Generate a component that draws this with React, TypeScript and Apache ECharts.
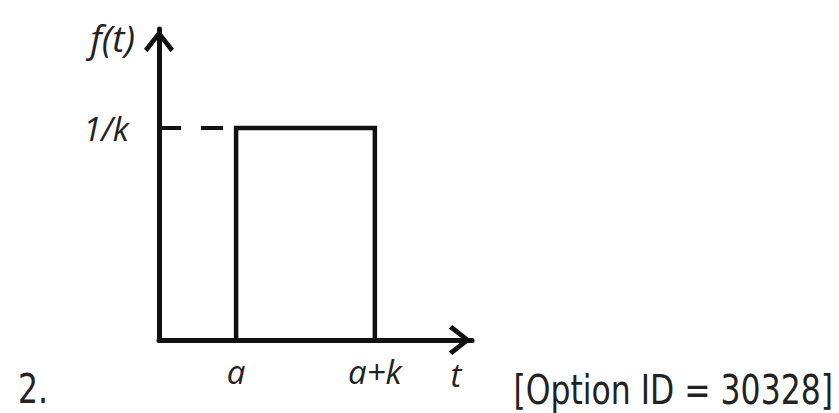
import React, { useEffect, useRef } from "react";
import * as echarts from "echarts";

// Pulse parameters: start time a and width k (height 1/k keeps unit area)
const a = 1;
const k = 1.8;
const level = 1 / k;

// Rectangular pulse outline and the dashed guide to the f(t) axis
const pulseOutline: [number, number][] = [
  [a, 0],
  [a, level],
  [a + k, level],
  [a + k, 0],
];
const guideLine: [number, number][] = [
  [0, level],
  [a, level],
];

// Tick positions and their symbolic labels
const xTickValues = [a, a + k];
const xTickLabels = ["a", "a+k"];
const yTickValues = [level];
const yTickLabels = ["1/k"];

const axisNames = { x: "t", y: "f(t)" };
const itemNumber = "2.";
const optionTag = "[Option ID = 30328]";

const INK = "#111";
const TEXT = "#222";
const LABEL_FONT = "'Open Sans', 'Noto Sans', sans-serif";
const BODY_FONT = "'DejaVu Sans Condensed', 'DejaVu Sans', sans-serif";

// Open chevron arrowhead, pointing up in symbol space
const chevron = "path://M0,19 L15,0 L30,19 L26.5,22.5 L15,7.5 L3.5,22.5 Z";

function labelFor(values: number[], labels: string[]) {
  return (v: number) => {
    const i = values.findIndex((x) => Math.abs(x - v) < 1e-9);
    return i >= 0 ? labels[i] : "";
  };
}

const italicLabel = {
  fontFamily: LABEL_FONT,
  fontStyle: "italic",
  fontWeight: 500,
  fontSize: 33,
  color: TEXT,
};

export default function App() {
  const ref = useRef<HTMLDivElement>(null);

  useEffect(() => {
    document.body.style.margin = "0";
    if (!ref.current) return;
    const chart = echarts.init(ref.current, null, { renderer: "svg" });

    const axisLine = {
      show: true,
      symbol: ["none", chevron],
      symbolSize: [30, 24],
      symbolOffset: [0, -12],
      lineStyle: { color: INK, width: 5 },
    };

    chart.setOption({
      animation: false,
      backgroundColor: "#fff",
      grid: { left: 159, top: 29, right: 367, bottom: 73, containLabel: false },
      xAxis: {
        type: "value",
        min: 0,
        max: 4.06,
        name: axisNames.x,
        nameLocation: "end",
        nameGap: -16,
        nameTextStyle: {
          ...italicLabel,
          align: "center",
          verticalAlign: "top",
          padding: [18, 0, 0, 0],
        },
        axisLine,
        axisTick: { show: false },
        splitLine: { show: false },
        axisLabel: {
          ...italicLabel,
          customValues: xTickValues,
          formatter: labelFor(xTickValues, xTickLabels),
          verticalAlign: "middle",
          margin: 31,
        },
      },
      yAxis: {
        type: "value",
        min: 0,
        max: 0.815,
        name: axisNames.y,
        nameLocation: "end",
        nameGap: -8,
        nameTextStyle: {
          ...italicLabel,
          fontSize: 37,
          align: "right",
          verticalAlign: "middle",
          padding: [0, 24, 0, 0],
        },
        axisLine,
        axisTick: { show: false },
        splitLine: { show: false },
        axisLabel: {
          ...italicLabel,
          customValues: yTickValues,
          formatter: labelFor(yTickValues, yTickLabels),
          margin: 30,
        },
      },
      series: [
        {
          type: "line",
          data: guideLine,
          symbol: "none",
          silent: true,
          lineStyle: { color: INK, width: 4, type: [22, 20] },
        },
        {
          type: "line",
          data: pulseOutline,
          symbol: "none",
          silent: true,
          lineStyle: { color: INK, width: 4.5, join: "miter", cap: "square" },
        },
      ],
      graphic: [
        {
          type: "text",
          x: 18,
          y: 389,
          scaleY: 1.15,
          style: {
            text: itemNumber,
            font: `35px ${BODY_FONT}`,
            fill: TEXT,
            verticalAlign: "middle",
          },
        },
        {
          type: "text",
          x: 833,
          y: 390,
          scaleY: 1.15,
          style: {
            text: optionTag,
            font: `35px ${BODY_FONT}`,
            fill: TEXT,
            align: "right",
            verticalAlign: "middle",
          },
        },
      ],
    });

    return () => chart.dispose();
  }, []);

  return <div ref={ref} style={{ width: 839, height: 413 }} />;
}
